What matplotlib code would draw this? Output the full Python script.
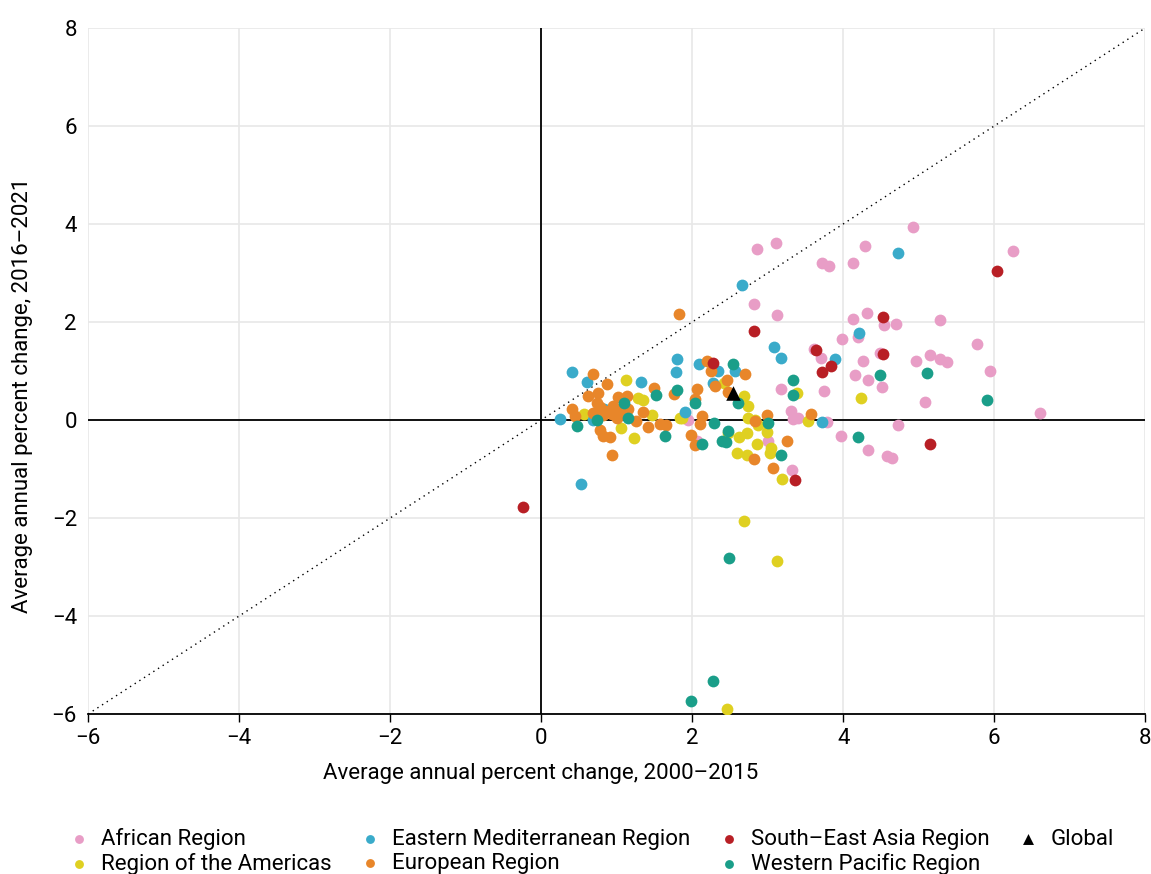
import numpy as np
import matplotlib
matplotlib.use("Agg")
from matplotlib import pyplot as plt

plt.rcParams['font.family'] = ['Roboto', 'DejaVu Sans']

# (x: 2000-2015 change, y: 2016-2021 change)
african_x = [3.11, 2.86, 4.93, 4.29, 6.25, 3.72, 3.81, 4.13, 2.82, 3.13, 4.32, 4.13, 4.54, 4.70, 5.28, 5.77,
             3.99, 4.20, 3.61, 3.70, 4.49, 4.26, 4.97, 5.15, 5.28, 5.38, 5.95, 4.15, 4.33, 4.52, 3.18, 3.75,
             5.09, 6.60, 3.31, 3.34, 3.40, 3.79, 4.72, 3.97, 4.33, 4.58, 4.65, 3.32, 3.01, 2.07, 1.95]
african_y = [3.62, 3.48, 3.93, 3.56, 3.44, 3.21, 3.15, 3.21, 2.37, 2.15, 2.19, 2.07, 1.94, 1.96, 2.04, 1.55,
             1.66, 1.70, 1.45, 1.27, 1.37, 1.20, 1.21, 1.33, 1.25, 1.19, 1.00, 0.92, 0.82, 0.68, 0.64, 0.60,
             0.37, 0.14, 0.18, 0.02, 0.05, -0.04, -0.10, -0.33, -0.61, -0.74, -0.78, -1.02, -0.43, -0.43, 0.0]

americas_x = [4.24, 2.69, 3.13, 2.46, 3.19, 2.60, 2.72, 2.86, 3.03, 3.04, 2.62, 2.72, 2.99, 2.48, 3.54, 2.42,
              2.68, 2.74, 2.74, 2.83, 2.87, 3.39, 1.87, 1.13, 0.57, 1.06, 1.23, 1.28, 1.35, 1.47, 1.84]
americas_y = [0.45, -2.07, -2.88, -5.89, -1.21, -0.67, -0.72, -0.49, -0.67, -0.57, -0.35, -0.27, -0.25, -0.27,
              -0.02, 0.76, 0.49, 0.29, 0.04, 0.0, -0.10, 0.55, 0.04, 0.82, 0.12, -0.16, -0.37, 0.45, 0.41, 0.10, 0.04]

emr_x = [4.73, 2.66, 4.21, 3.09, 3.18, 3.89, 3.72, 0.41, 0.61, 1.32, 1.80, 1.79, 2.09, 2.34, 2.57, 2.27,
         0.25, 0.83, 0.69, 1.91, 0.53]
emr_y = [3.41, 2.76, 1.78, 1.49, 1.27, 1.25, -0.04, 0.98, 0.78, 0.78, 1.24, 0.98, 1.14, 1.00, 1.00, 0.76,
         0.02, 0.22, 0.0, 0.16, -1.31]

europe_x = [0.69, 0.87, 0.62, 0.75, 0.74, 0.78, 0.41, 0.45, 0.69, 0.82, 0.94, 0.95, 1.02, 1.14, 1.09, 1.15,
            1.05, 1.25, 1.35, 0.78, 0.82, 0.91, 0.94, 1.42, 1.50, 1.58, 1.66, 1.76, 2.07, 2.04, 2.13, 2.11,
            1.99, 2.04, 2.20, 2.25, 2.30, 2.48, 2.46, 2.70, 2.99, 2.83, 3.25, 2.82, 3.07, 3.58, 1.83, 0.85, 1.00]
europe_y = [0.94, 0.73, 0.49, 0.55, 0.35, 0.27, 0.22, 0.08, 0.14, 0.10, 0.12, 0.29, 0.47, 0.49, 0.22, 0.22,
            0.12, -0.02, 0.16, -0.20, -0.33, -0.35, -0.72, -0.14, 0.65, -0.08, -0.10, 0.53, 0.63, 0.43, 0.08,
            -0.08, -0.31, -0.51, 1.21, 1.00, 0.70, 0.57, 0.82, 0.94, 0.10, -0.02, -0.43, -0.80, -0.98, 0.12,
            2.17, 0.18, 0.05]

sear_x = [6.04, 2.82, 3.64, 4.53, 4.53, 3.72, 3.84, 5.15, 3.36, 2.27, -0.24]
sear_y = [3.05, 1.82, 1.43, 1.35, 2.11, 0.98, 1.10, -0.49, -1.23, 1.16, -1.78]

wpr_x = [4.49, 5.11, 5.91, 4.20, 2.54, 3.34, 3.34, 2.61, 2.29, 3.01, 2.48, 2.40, 2.45, 2.13, 3.17, 2.04,
         0.48, 0.74, 1.10, 1.15, 1.52, 1.80, 1.64, 2.28, 1.99, 2.49]
wpr_y = [0.92, 0.96, 0.40, -0.35, 1.15, 0.82, 0.52, 0.35, -0.06, -0.06, -0.22, -0.43, -0.45, -0.49, -0.72,
         0.35, -0.12, 0.0, 0.35, 0.04, 0.51, 0.61, -0.33, -5.32, -5.73, -2.82]

global_x = [2.54]
global_y = [0.55]

ticks = [-6, -4, -2, 0, 2, 4, 6, 8]

fig = plt.figure(figsize=(11.51, 8.74), dpi=100)
ax = fig.add_axes([0.0765, 0.183, 0.9185, 0.785])

ax.plot([-6, 8], [-6, 8], ls=(0, (1, 3)), color='black', lw=1.0, zorder=1)
ax.axhline(0, color='black', lw=1.3, zorder=1)
ax.axvline(0, color='black', lw=1.3, zorder=1)

s = 72
ax.scatter(african_x, african_y, s=s, color='#e89dc6', lw=0, label='African Region', zorder=3)
ax.scatter(americas_x, americas_y, s=s, color='#dfd021', lw=0, label='Region of the Americas', zorder=3)
ax.scatter(emr_x, emr_y, s=s, color='#3aabca', lw=0, label='Eastern Mediterranean Region', zorder=3)
ax.scatter(europe_x, europe_y, s=s, color='#e8862a', lw=0, label='European Region', zorder=3)
ax.scatter(sear_x, sear_y, s=s, color='#b81f25', lw=0, label='South\u2013East Asia Region', zorder=3)
ax.scatter(wpr_x, wpr_y, s=s, color='#1a9e89', lw=0, label='Western Pacific Region', zorder=3)
ax.scatter(global_x, global_y, s=110, marker='^', color='black', lw=0, label='Global', zorder=4)

ax.set_xlim(-6, 8)
ax.set_ylim(-6, 8)
ax.set_xticks(ticks)
ax.set_yticks(ticks)
ax.grid(color='#e8e8e8', lw=1.2, zorder=0)
ax.set_axisbelow(True)
for sp in ['top', 'right', 'left']:
    ax.spines[sp].set_visible(False)
ax.spines['bottom'].set_linewidth(1.3)
ax.tick_params(axis='x', length=6, width=1, labelsize=16, pad=4)
ax.tick_params(axis='y', length=0, labelsize=16, pad=8)

ax.set_xlabel("Average annual percent change, 2000\u20132015", fontsize=16)
ax.xaxis.set_label_coords(0.428, -0.072)
ax.set_ylabel("Average annual percent change, 2016\u20132021", fontsize=16)
ax.yaxis.set_label_coords(-0.052, 0.464)

fig.legend(loc='upper left', bbox_to_anchor=(0.053, 0.063), ncol=4, frameon=False, fontsize=16,
           handlelength=0.8, handletextpad=0.6, columnspacing=1.33, labelspacing=0.15,
           markerscale=0.75, borderaxespad=0)

fig.savefig("out.png", dpi=100)
